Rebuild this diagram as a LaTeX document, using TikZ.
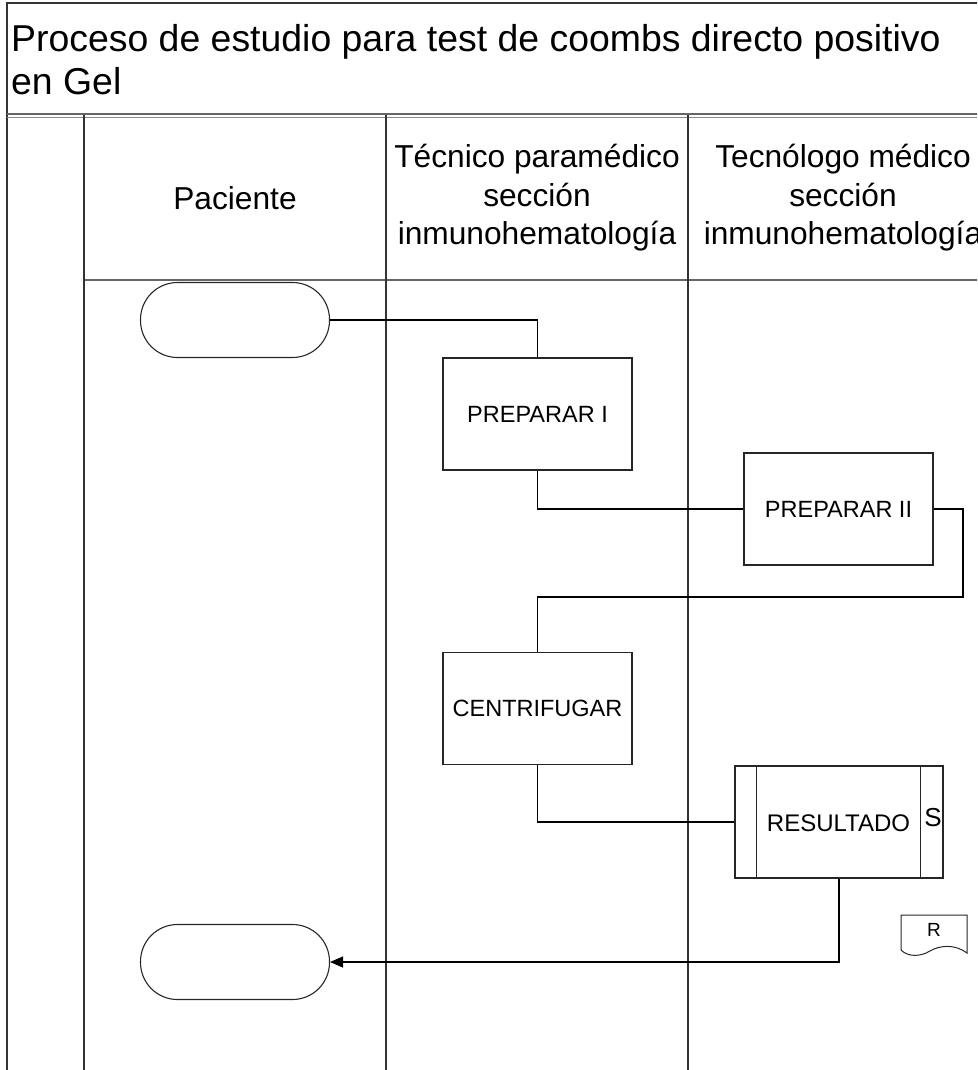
\documentclass[tikz,border=0pt]{standalone}
\usepackage{fontspec}
\setmainfont{Liberation Sans}
\usetikzlibrary{calc,arrows.meta}
\begin{document}
\begin{tikzpicture}[x=1pt,y=-1pt,
  lane/.style={draw=black!80,line width=1.6pt},
  sep/.style={draw=black!60,line width=1.6pt},
  stepbox/.style={draw=black!85,line width=1.1pt,minimum width=189pt,minimum height=112pt,inner sep=0pt,font=\fontsize{23.5}{27}\selectfont},
  term/.style={draw=black!85,line width=1.1pt,rounded corners=37pt,minimum width=189pt,minimum height=75pt,inner sep=0pt},
  flow/.style={draw=black,line width=1.1pt},
  hdr/.style={align=center,font=\fontsize{31.7}{38.5}\selectfont,inner sep=0pt},
  ttl/.style={anchor=base west,inner sep=0pt,font=\fontsize{37.4}{43}\selectfont}
]
\useasboundingbox (0,0) rectangle (977,1070);
\begin{scope}
\clip (0,0) rectangle (977,1070);
% pool frame and lanes
\draw[lane] (7,1075) -- (7,3) -- (990,3);
\draw[sep] (7,114) -- (990,114);
\draw[black!45,line width=0.8pt] (7,117) -- (990,117);
\draw[sep] (84,280) -- (990,280);
\draw[lane] (84,115) -- (84,1075);
\draw[lane] (386,115) -- (386,1075);
\draw[lane] (688,115) -- (688,1075);

% title
\node[ttl] (title) at (11,52) {Proceso de estudio para test de coombs directo positivo};
\node[ttl] (title2) at (11,95) {en Gel};

% lane headers
\node[hdr] (h1) at (235,198) {Paciente};
\node[hdr] (h2) at (537,198) {Técnico paramédico\\sección\\inmunohematología};
\node[hdr] (h3) at (843,198) {Tecnólogo médico\\sección\\inmunohematología};

% flow nodes
\node[term] (start) at (235,320) {};
\node[stepbox] (prep1) at (537.5,414) {PREPARAR I};
\node[stepbox] (prep2) at (838.5,509) {PREPARAR II};
\node[stepbox] (centr) at (537.5,708.5) {CENTRIFUGAR};
\node[stepbox,minimum width=208pt] (res) at (839,822) {};
\node[font=\fontsize{24}{27}\selectfont,inner sep=0pt] (restext) at (838.5,823) {RESULTADO};
\draw[black!85,line width=1.1pt] ($(res.north west)+(22,0)$) -- ($(res.south west)+(22,0)$);
\draw[black!85,line width=1.1pt] ($(res.north east)+(-23,0)$) -- ($(res.south east)+(-23,0)$);
\node[font=\fontsize{26}{30}\selectfont,inner sep=0pt] (s) at (933,818) {S};
\node[term] (stop) at (235,962) {};

% document symbol
\draw[black!85,line width=1pt] (901,950) -- (901,915) -- (967,915) -- (967,953)
  .. controls (955,944) and (940,945) .. (930,951)
  .. controls (920,957) and (908,957) .. (901,950);
\node[font=\fontsize{19}{22}\selectfont,inner sep=0pt] (r) at (934,930) {R};

% connectors
\coordinate (loop) at (963,597);
\draw[flow] (start.east) -| (prep1.north);
\draw[flow] (prep1.south) |- (prep2.west);
\draw[flow] (prep2.east) -| (loop) -| (centr.north);
\draw[flow] (centr.south) |- (res.west);
\draw[flow,-{Triangle[length=13pt,width=11pt]}] (res.south) |- (stop.east);
\end{scope}
\end{tikzpicture}
\end{document}
